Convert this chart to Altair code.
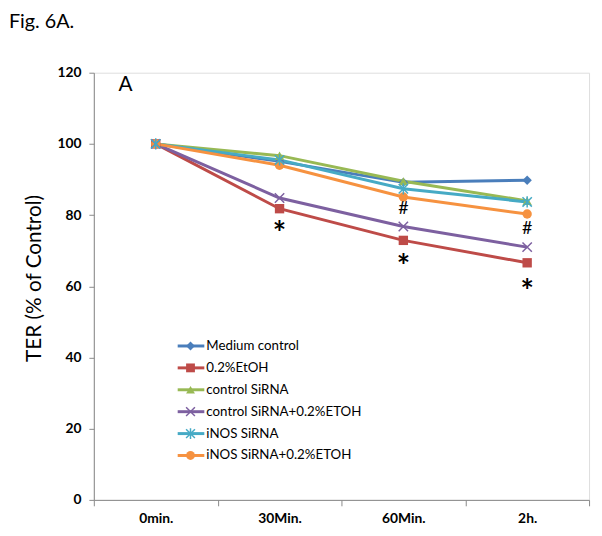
import altair as alt
import pandas as pd

times = ["0min.", "30Min.", "60Min.", "2h."]
series = ["Medium control", "0.2%EtOH", "control SiRNA",
          "control SiRNA+0.2%ETOH", "iNOS SiRNA", "iNOS SiRNA+0.2%ETOH"]
medium_control = [100, 95.1, 89.2, 89.8]
etoh = [100, 81.8, 72.9, 66.6]
control_sirna = [100, 96.7, 89.5, 84.0]
control_sirna_etoh = [100, 84.8, 76.8, 71.0]
inos_sirna = [100, 95.5, 87.4, 83.7]
inos_sirna_etoh = [100, 94.0, 85.1, 80.3]
colors = ["#4A7EBB", "#BE4B48", "#98B954", "#7D60A0", "#46AAC5", "#F69240"]
shapes = ["diamond", "square", "triangle-up",
          "M-1,-1L1,1M-1,1L1,-1",
          "M-1,-1L1,1M-1,1L1,-1M0,-1.2L0,1.2",
          "circle"]
filled_series = ["Medium control", "0.2%EtOH", "control SiRNA", "iNOS SiRNA+0.2%ETOH"]

star_times = ["30Min.", "60Min.", "2h."]
star_values = [76.6, 67.3, 60.4]
hash_times = ["60Min.", "2h."]
hash_values = [81.7, 76.1]

values = [medium_control, etoh, control_sirna, control_sirna_etoh, inos_sirna, inos_sirna_etoh]
rows = []
for s, vals in zip(series, values):
    for t, v in zip(times, vals):
        rows.append({"series": s, "time": t, "value": v})
df = pd.DataFrame(rows)
stars = pd.DataFrame({"time": star_times, "value": star_values, "label": "*"})
hashes = pd.DataFrame({"time": hash_times, "value": hash_values, "label": "#"})
leg = pd.DataFrame({"series": series})

FONT = "Lato"
color = alt.Color("series:N", scale=alt.Scale(domain=series, range=colors), legend=None)
shape = alt.Shape("series:N", scale=alt.Scale(domain=series, range=shapes), legend=None)
x = alt.X("time:N", sort=times, bandPosition=0.5,
          scale=alt.Scale(type="band", domain=times, paddingInner=0, paddingOuter=0),
          axis=alt.Axis(title=None, labelFont=FONT, labelFontSize=14, labelFontWeight="bold",
                        labelColor="black", labelPadding=6, labelAngle=0, domainColor="#888888",
                        tickColor="#888888", tickSize=6, tickBand="extent", grid=False))
y = alt.Y("value:Q", scale=alt.Scale(domain=[0, 120], nice=False),
          axis=alt.Axis(title="TER (% of Control)", values=[0, 20, 40, 60, 80, 100, 120],
                        labelFont=FONT, labelFontSize=14, labelFontWeight="bold", labelColor="black",
                        labelPadding=8, tickSize=5, domainColor="#888888", tickColor="#888888",
                        grid=False, titleFont=FONT, titleFontSize=21, titleFontWeight="normal",
                        titleColor="black", titleX=-60, titleY=208, titleBaseline="middle"))

base = alt.Chart(df)
lines = base.mark_line(strokeWidth=3).encode(x=x, y=y, color=color, detail="series:N")
pts_f = base.transform_filter(alt.FieldOneOfPredicate(field="series", oneOf=filled_series)).mark_point(
    filled=True, size=90, opacity=1).encode(x=x, y=y, color=color, shape=shape)
pts_s = base.transform_filter(~alt.FieldOneOfPredicate(field="series", oneOf=filled_series)).mark_point(
    filled=False, size=90, strokeWidth=1.5, opacity=1).encode(x=x, y=y, color=color, shape=shape)
star_txt = alt.Chart(stars).mark_text(font=FONT, fontSize=32, fontWeight="bold", baseline="middle",
                                      dy=8, color="black").encode(x=x, y=y, text="label:N")
hash_txt = alt.Chart(hashes).mark_text(font=FONT, fontSize=18, baseline="middle",
                                       color="black").encode(x=x, y=y, text="label:N")
one = pd.DataFrame({"t": ["A"]})
a_txt = alt.Chart(one).mark_text(font=FONT, fontSize=21, align="left", baseline="middle",
                                 color="black", text="A").encode(x=alt.value(25), y=alt.value(13))
fig_txt = alt.Chart(one).mark_text(font=FONT, fontSize=20, align="left", baseline="middle",
                                   color="black", text="Fig. 6A.").encode(x=alt.value(-86), y=alt.value(-51))

main = alt.layer(lines, pts_f, pts_s, star_txt, hash_txt, a_txt, fig_txt)

ly = alt.Y("series:N", sort=series,
           scale=alt.Scale(type="point", domain=series, range=[277, 388], padding=0), axis=None)
lbase = alt.Chart(leg)
leg_rule = lbase.mark_rule(strokeWidth=3).encode(x=alt.value(85), x2=alt.value(112), y=ly, color=color)
leg_f = lbase.transform_filter(alt.FieldOneOfPredicate(field="series", oneOf=filled_series)).mark_point(
    filled=True, size=80, opacity=1).encode(x=alt.value(98), y=ly, color=color, shape=shape)
leg_s = lbase.transform_filter(~alt.FieldOneOfPredicate(field="series", oneOf=filled_series)).mark_point(
    filled=False, size=80, strokeWidth=1.5, opacity=1).encode(x=alt.value(98), y=ly, color=color, shape=shape)
leg_t = lbase.mark_text(font=FONT, fontSize=13.5, align="left", baseline="middle", color="black",
                        dx=0).encode(x=alt.value(114), y=ly, text="series:N")
legend = alt.layer(leg_rule, leg_f, leg_s, leg_t)

chart = alt.layer(main, legend).resolve_scale(y="independent").properties(
    width=502, height=433,
    autosize=alt.AutoSizeParams(type="none"),
    padding={"left": 87, "top": 62, "right": 5, "bottom": 32},
).configure_view(stroke=None).configure(background="white")

chart.save("out.html", embed_options={"renderer": "svg", "actions": False})
